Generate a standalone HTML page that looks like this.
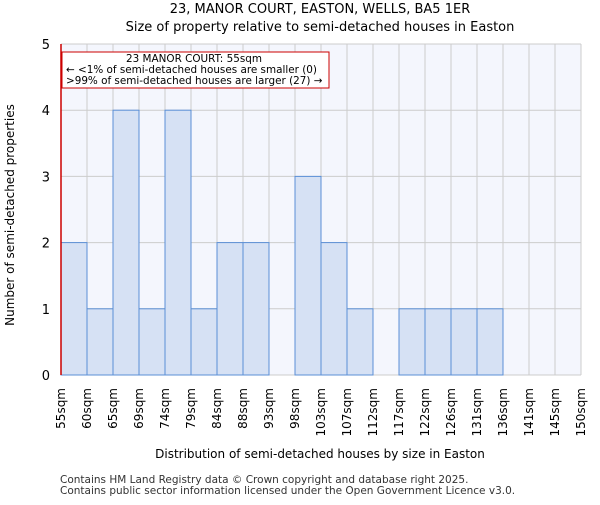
<!DOCTYPE html>
<html><head><meta charset="utf-8"><style>
body{margin:0;background:#fff;}
svg text{font-family:"DejaVu Sans","Liberation Sans",sans-serif;}
</style></head><body>
<svg id="c" width="600" height="500" viewBox="0 0 600 500" xmlns="http://www.w3.org/2000/svg">
<text x="320" y="13" font-size="13" text-anchor="middle">23, MANOR COURT, EASTON, WELLS, BA5 1ER</text>
<text x="320" y="31" font-size="13" text-anchor="middle">Size of property relative to semi-detached houses in Easton</text>
<rect x="61" y="44" width="520" height="331" fill="#f4f6fd"/>
<g id="grid"></g>
<g id="bars"></g>
<g id="yticks"></g>
<g id="xticks"></g>
<line x1="61" y1="44" x2="61" y2="375" stroke="#c00" stroke-width="1.5"/>
<rect x="62" y="52" width="267" height="36" fill="#fff" stroke="#c00" stroke-width="1"/>
<text x="194" y="62" font-size="10.4" text-anchor="middle">23 MANOR COURT: 55sqm</text>
<text x="66" y="73" font-size="10.4">← &lt;1% of semi-detached houses are smaller (0)</text>
<text x="66" y="84" font-size="10.4">&gt;99% of semi-detached houses are larger (27) →</text>
<text x="14" y="215" font-size="12" text-anchor="middle" transform="rotate(-90 14 215)">Number of semi-detached properties</text>
<text x="320" y="458" font-size="12" text-anchor="middle">Distribution of semi-detached houses by size in Easton</text>
<text x="60" y="483" font-size="10.5" fill="#333">Contains HM Land Registry data © Crown copyright and database right 2025.</text>
<text x="60" y="494" font-size="10.5" fill="#333">Contains public sector information licensed under the Open Government Licence v3.0.</text>
</svg>
<script>
const labels=["55sqm","60sqm","65sqm","69sqm","74sqm","79sqm","84sqm","88sqm","93sqm","98sqm","103sqm","107sqm","112sqm","117sqm","122sqm","126sqm","131sqm","136sqm","141sqm","145sqm","150sqm"];
const counts=[2,1,4,1,4,1,2,2,0,3,2,1,0,1,1,1,1,0,0,0];
const yTicks=[0,1,2,3,4,5];
const NS="http://www.w3.org/2000/svg";
const x0=61,bw=26,yb=375,yt=44,ymax=5;
function xs(i){return x0+i*bw;}
function ys(v){return yb-(v/ymax)*(yb-yt);}
function mk(t,a,p){const e=document.createElementNS(NS,t);for(const k in a)e.setAttribute(k,a[k]);document.getElementById(p).appendChild(e);return e;}
for(let i=0;i<labels.length;i++){
  const g=mk('line',{x1:xs(i),x2:xs(i),y1:yt,y2:yb,stroke:'#ccc','stroke-width':1},'grid');
  
  
  const t=mk('text',{x:0,y:0,'font-size':12,'text-anchor':'end',transform:`translate(${xs(i)+4},388) rotate(-90)`},'xticks');
  t.textContent=labels[i];
  
  
}
yTicks.forEach(v=>{
  const g=mk('line',{x1:x0,x2:x0+bw*counts.length,y1:ys(v),y2:ys(v),stroke:'#ccc','stroke-width':1},'grid');
  
  
  const t=mk('text',{x:50,y:ys(v)+5,'font-size':13,'text-anchor':'end'},'yticks');
  t.textContent=v;
  
  
});
counts.forEach((c,i)=>{
  if(c<=0)return;
  const r=mk('rect',{x:xs(i),y:ys(c),width:bw,height:yb-ys(c),fill:'#d6e1f4',stroke:'#5b8fd6','stroke-width':1},'bars');
  
  
});
</script>
</body></html>
